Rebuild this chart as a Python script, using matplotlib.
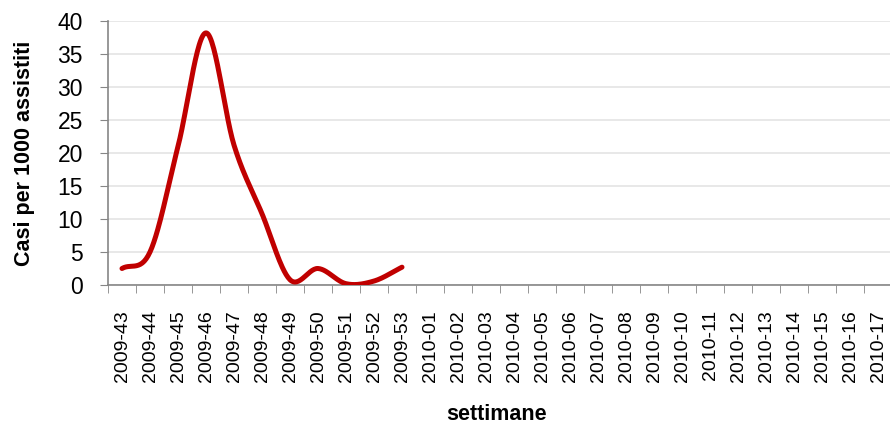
import numpy as np
import matplotlib
matplotlib.use("Agg")
import matplotlib.pyplot as plt
from matplotlib.ticker import FixedLocator

plt.rcParams['font.family'] = ['Liberation Sans', 'DejaVu Sans']

# weeks on the category axis
weeks = [f"2009-{w}" for w in range(43, 54)] + [f"2010-{w:02d}" for w in range(1, 18)]
# cases per 1000 assisted (only first 11 weeks have data)
cases = [2.5, 5.0, 21.0, 38.2, 21.2, 10.8, 0.8, 2.5, 0.2, 0.6, 2.7]


def smooth(xs, ys, n=30):
    # catmull-rom style curve through the points (like excel smoothed line)
    xs = np.asarray(xs, float)
    ys = np.asarray(ys, float)
    px = np.concatenate([[2 * xs[0] - xs[1]], xs, [2 * xs[-1] - xs[-2]]])
    py = np.concatenate([[2 * ys[0] - ys[1]], ys, [2 * ys[-1] - ys[-2]]])
    outx, outy = [], []
    for i in range(1, len(px) - 2):
        t = np.linspace(0, 1, n)
        for p, out in ((px, outx), (py, outy)):
            p0, p1, p2, p3 = p[i - 1], p[i], p[i + 1], p[i + 2]
            v = 0.5 * ((2 * p1) + (-p0 + p2) * t + (2 * p0 - 5 * p1 + 4 * p2 - p3) * t ** 2
                       + (-p0 + 3 * p1 - 3 * p2 + p3) * t ** 3)
            out.extend(v)
    return np.array(outx), np.array(outy)


fig = plt.figure(figsize=(8.9, 4.3), dpi=100)
ax = fig.add_axes([108 / 890, 145 / 430, 784 / 890, 264 / 430])

sx, sy = smooth(np.arange(len(cases)), cases)
ax.plot(sx, sy, color='#C00000', lw=3.6, solid_capstyle='round', zorder=3)

ax.set_xlim(-0.5, len(weeks) - 0.5)
ax.set_ylim(0, 40)
ax.set_yticks(range(0, 41, 5))
ax.set_xticks(range(len(weeks)))
ax.set_xticklabels(weeks, rotation=90, fontsize=14)
ax.xaxis.set_minor_locator(FixedLocator(np.arange(-0.5, len(weeks), 1)))
ax.tick_params(axis='x', which='major', length=0, pad=18)
ax.tick_params(axis='x', which='minor', length=6, color='#868686', direction='out')
ax.tick_params(axis='y', length=6, color='#868686', labelsize=16.5, pad=12)
ax.grid(axis='y', color='#e4e4e4', lw=1.2)
ax.set_axisbelow(True)
for s in ['top', 'right']:
    ax.spines[s].set_visible(False)
for s in ['left', 'bottom']:
    ax.spines[s].set_color('#868686')
    ax.spines[s].set_linewidth(1.2)

ax.set_ylabel('Casi per 1000 assistiti', fontsize=15.5, fontweight='bold', labelpad=16)
fig.text(497 / 890, 1 - 415 / 430, 'settimane', fontsize=15.5, fontweight='bold',
         ha='center', va='center')

fig.savefig('out.png', dpi=100)
